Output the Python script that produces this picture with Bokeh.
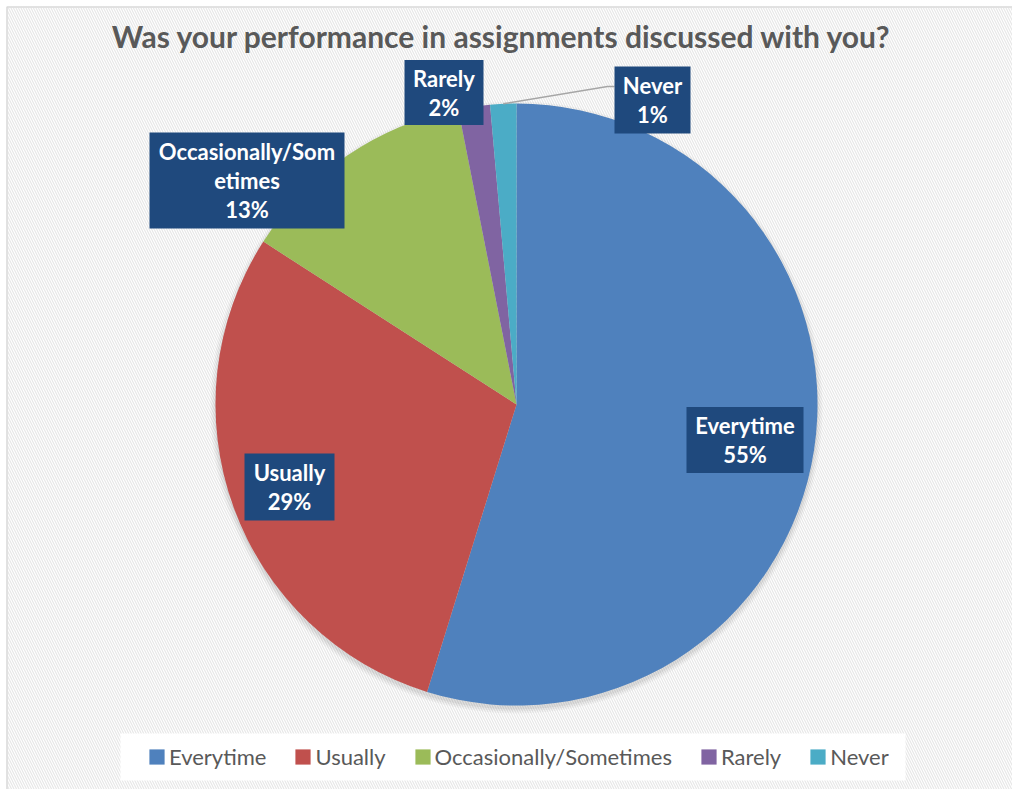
import math
from bokeh.plotting import figure
from bokeh.models import Range1d, ColumnDataSource, Legend, LegendItem
from bokeh.core.properties import value
from bokeh.embed import file_html
from bokeh.resources import INLINE

# ---------------- data ----------------
categories = ["Everytime", "Usually", "Occasionally/Sometimes", "Rarely", "Never"]
shares = [54.8, 29.3, 12.8, 1.7, 1.4]
colors = ["#4F81BD", "#C0504D", "#9BBB59", "#8064A2", "#4BACC6"]
label_lines = [["Everytime"], ["Usually"], ["Occasionally/Som", "etimes"], ["Rarely"], ["Never"]]
title_text = "Was your performance in assignments discussed with you?"

# ---------------- layout ----------------
W, H = 1012, 789
def X(rx):
    return rx
def Y(ry):
    return H - ry

CX, CY, R = X(516), Y(404), 301
# label box centres / sizes in reference pixel space
label_pos = [(744.5, 439.5), (289, 486.5), (246.5, 180), (443.5, 92), (652, 99.5)]
label_box = [(117, 66), (90, 67), (195, 96), (79, 65), (76, 67)]
LINE_SP = 29

p = figure(width=W, height=H, x_range=Range1d(0, W), y_range=Range1d(0, H),
           output_backend="svg", toolbar_location=None, min_border=0,
           x_axis_type=None, y_axis_type=None)
p.grid.visible = False
p.outline_line_color = None
p.background_fill_color = "#ffffff"
p.border_fill_color = "#ffffff"

# subtle diagonal background texture inside the chart frame
p.quad(left=[X(7)], right=[W], bottom=[0], top=[Y(7)], fill_alpha=0, line_color=None,
       hatch_pattern="\\", hatch_color="#e7e7e7", hatch_scale=5, hatch_weight=1.2)
# chart frame (top / left edges visible)
p.line(x=[X(6.5), X(6.5), W], y=[0, Y(6.5), Y(6.5)], line_color="#d9d9d9", line_width=1.5)

# ---------------- pie ----------------
total = sum(shares)
cum = [0]
for s in shares:
    cum.append(cum[-1] + s)
starts = [math.pi / 2 - 2 * math.pi * cum[i + 1] / total for i in range(len(shares))]
ends = [math.pi / 2 - 2 * math.pi * cum[i] / total for i in range(len(shares))]
src = ColumnDataSource(dict(cat=categories, share=shares, color=colors, start=starts, end=ends))

# soft shadow
for k, a in [(5, 0.03), (3, 0.04), (1, 0.05)]:
    p.circle(x=[CX], y=[CY - 3], radius=R + k, fill_color="#000000", fill_alpha=a, line_color=None)

p.wedge(x=CX, y=CY, radius=R, start_angle="start", end_angle="end", direction="anticlock",
        fill_color="color", line_color=None, source=src)

# leader line for "Never"
mid_never = 2 * math.pi * (cum[4] + shares[4] / 2) / total
lx0 = CX + R * math.sin(mid_never)
ly0 = CY + R * math.cos(mid_never)
p.line(x=[lx0, X(607), X(614)], y=[ly0, Y(86), Y(86)], line_color="#a6a6a6", line_width=1.5)

# ---------------- data labels ----------------
bx, by, bw, bh = [], [], [], []
tx, ty, tt = [], [], []
for i, cat in enumerate(categories):
    cx, cy = label_pos[i]
    w, h = label_box[i]
    bx.append(X(cx)); by.append(Y(cy)); bw.append(w); bh.append(h)
    lines = label_lines[i] + [f"{round(shares[i])}%"]
    n = len(lines)
    for j, ln in enumerate(lines):
        off = (j - (n - 1) / 2) * LINE_SP
        tx.append(X(cx)); ty.append(Y(cy + off)); tt.append(ln)
p.rect(x=bx, y=by, width=bw, height=bh, fill_color="#1F497D", line_color=None)
p.text(x=tx, y=ty, text=tt, text_color="#ffffff", text_font=value("Lato"),
       text_font_style="bold", text_font_size="22px", text_align="center",
       text_baseline="middle")

# ---------------- title ----------------
p.text(x=[X(501.5)], y=[Y(35)], text=[title_text], text_color="#595959",
       text_font=value("Lato"), text_font_style="bold", text_font_size="30px",
       text_align="center", text_baseline="middle")

# ---------------- legend ----------------
# legend panel
p.quad(left=[X(120)], right=[X(905)], top=[Y(733)], bottom=[Y(780)],
       fill_color="#ffffff", line_color=None)
nan = float("nan")
items = []
for cat, c in zip(categories, colors):
    r = p.quad(left=[nan], right=[nan], top=[nan], bottom=[nan], fill_color=c, line_color=None)
    items.append(LegendItem(label=cat, renderers=[r]))
legend = Legend(items=items, orientation="horizontal", location=(X(147), Y(770)),
                glyph_width=19, glyph_height=19, label_standoff=3, spacing=27,
                padding=12, margin=0, label_text_font="Lato",
                label_text_font_size="22px", label_text_color="#595959",
                label_height=22, background_fill_alpha=0,
                border_line_color=None)
p.add_layout(legend, "center")

open("out.html", "w").write(file_html(p, INLINE))
